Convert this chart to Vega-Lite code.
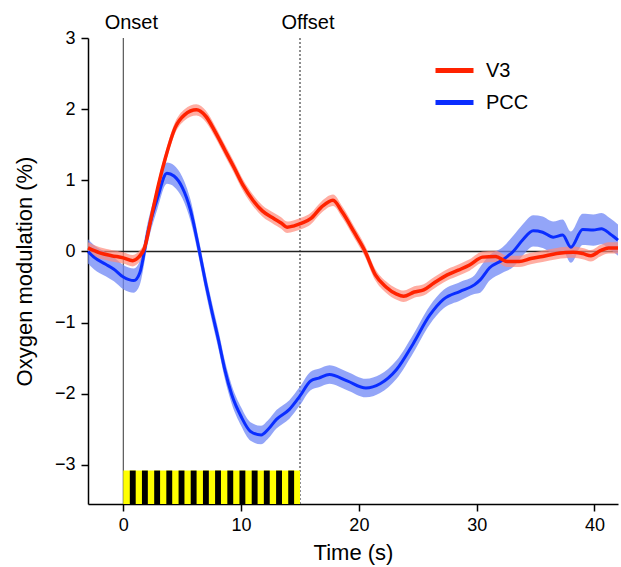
{
  "$schema": "https://vega.github.io/schema/vega-lite/v6.json",
  "autosize": "none",
  "padding": {"left": 88, "top": 38, "right": 3, "bottom": 63},
  "width": 530,
  "height": 466,
  "background": "white",
  "config": {
    "view": {"stroke": null},
    "font": "Liberation Sans",
    "axis": {"grid": false, "domainColor": "black", "domainWidth": 1.5, "tickColor": "black", "tickWidth": 1.5, "tickSize": 7, "labelFont": "Liberation Sans", "labelFontSize": 18, "labelColor": "black", "titleFont": "Liberation Sans", "titleFontSize": 22, "titleFontWeight": "normal", "titleColor": "black"}
  },
  "datasets": {
    "curves": [
      {"s":"V3","t":-3,"v":0.05,"lo":-0.03,"hi":0.13},
      {"s":"V3","t":-2,"v":-0.02,"lo":-0.10,"hi":0.06},
      {"s":"V3","t":-1,"v":-0.06,"lo":-0.14,"hi":0.02},
      {"s":"V3","t":0,"v":-0.09,"lo":-0.17,"hi":-0.01},
      {"s":"V3","t":0.8,"v":-0.13,"lo":-0.21,"hi":-0.05},
      {"s":"V3","t":1.3,"v":-0.08,"lo":-0.16,"hi":0.00},
      {"s":"V3","t":1.8,"v":0.05,"lo":-0.03,"hi":0.13},
      {"s":"V3","t":2.4,"v":0.50,"lo":0.42,"hi":0.58},
      {"s":"V3","t":3.0,"v":0.95,"lo":0.87,"hi":1.03},
      {"s":"V3","t":3.6,"v":1.33,"lo":1.25,"hi":1.41},
      {"s":"V3","t":4.4,"v":1.74,"lo":1.66,"hi":1.82},
      {"s":"V3","t":5.2,"v":1.92,"lo":1.84,"hi":2.00},
      {"s":"V3","t":6.2,"v":1.99,"lo":1.91,"hi":2.07},
      {"s":"V3","t":7.0,"v":1.90,"lo":1.82,"hi":1.98},
      {"s":"V3","t":7.8,"v":1.68,"lo":1.60,"hi":1.76},
      {"s":"V3","t":8.6,"v":1.43,"lo":1.35,"hi":1.51},
      {"s":"V3","t":9.4,"v":1.18,"lo":1.10,"hi":1.26},
      {"s":"V3","t":10.2,"v":0.92,"lo":0.84,"hi":1.00},
      {"s":"V3","t":11.0,"v":0.72,"lo":0.64,"hi":0.80},
      {"s":"V3","t":11.8,"v":0.57,"lo":0.49,"hi":0.65},
      {"s":"V3","t":12.8,"v":0.46,"lo":0.38,"hi":0.54},
      {"s":"V3","t":13.4,"v":0.40,"lo":0.32,"hi":0.48},
      {"s":"V3","t":13.9,"v":0.34,"lo":0.26,"hi":0.42},
      {"s":"V3","t":14.5,"v":0.36,"lo":0.28,"hi":0.44},
      {"s":"V3","t":15.2,"v":0.40,"lo":0.32,"hi":0.48},
      {"s":"V3","t":15.9,"v":0.46,"lo":0.38,"hi":0.54},
      {"s":"V3","t":16.8,"v":0.62,"lo":0.54,"hi":0.70},
      {"s":"V3","t":17.8,"v":0.72,"lo":0.64,"hi":0.80},
      {"s":"V3","t":18.6,"v":0.55,"lo":0.47,"hi":0.63},
      {"s":"V3","t":19.6,"v":0.27,"lo":0.19,"hi":0.35},
      {"s":"V3","t":20.5,"v":0.01,"lo":-0.07,"hi":0.09},
      {"s":"V3","t":21.4,"v":-0.33,"lo":-0.41,"hi":-0.25},
      {"s":"V3","t":22.3,"v":-0.50,"lo":-0.58,"hi":-0.42},
      {"s":"V3","t":23.2,"v":-0.60,"lo":-0.68,"hi":-0.52},
      {"s":"V3","t":23.8,"v":-0.63,"lo":-0.71,"hi":-0.55},
      {"s":"V3","t":24.7,"v":-0.57,"lo":-0.65,"hi":-0.49},
      {"s":"V3","t":25.5,"v":-0.54,"lo":-0.62,"hi":-0.46},
      {"s":"V3","t":26.4,"v":-0.44,"lo":-0.52,"hi":-0.36},
      {"s":"V3","t":27.5,"v":-0.33,"lo":-0.41,"hi":-0.25},
      {"s":"V3","t":28.5,"v":-0.26,"lo":-0.34,"hi":-0.18},
      {"s":"V3","t":29.4,"v":-0.19,"lo":-0.27,"hi":-0.11},
      {"s":"V3","t":30.5,"v":-0.08,"lo":-0.16,"hi":0.00},
      {"s":"V3","t":31.6,"v":-0.07,"lo":-0.15,"hi":0.01},
      {"s":"V3","t":32.6,"v":-0.14,"lo":-0.22,"hi":-0.06},
      {"s":"V3","t":33.6,"v":-0.14,"lo":-0.22,"hi":-0.06},
      {"s":"V3","t":34.6,"v":-0.10,"lo":-0.18,"hi":-0.02},
      {"s":"V3","t":35.6,"v":-0.07,"lo":-0.15,"hi":0.01},
      {"s":"V3","t":36.8,"v":-0.03,"lo":-0.11,"hi":0.05},
      {"s":"V3","t":38.2,"v":-0.01,"lo":-0.09,"hi":0.07},
      {"s":"V3","t":39.0,"v":-0.03,"lo":-0.11,"hi":0.05},
      {"s":"V3","t":39.7,"v":-0.06,"lo":-0.14,"hi":0.02},
      {"s":"V3","t":40.5,"v":0.01,"lo":-0.07,"hi":0.09},
      {"s":"V3","t":41.2,"v":0.05,"lo":-0.03,"hi":0.13},
      {"s":"V3","t":42.0,"v":0.05,"lo":-0.03,"hi":0.13},
      {"s":"PCC","t":-3,"v":0.00,"lo":-0.17,"hi":0.17},
      {"s":"PCC","t":-2.5,"v":-0.08,"lo":-0.25,"hi":0.09},
      {"s":"PCC","t":-1.5,"v":-0.18,"lo":-0.35,"hi":-0.01},
      {"s":"PCC","t":-0.8,"v":-0.25,"lo":-0.42,"hi":-0.08},
      {"s":"PCC","t":0.0,"v":-0.36,"lo":-0.53,"hi":-0.19},
      {"s":"PCC","t":0.9,"v":-0.41,"lo":-0.58,"hi":-0.24},
      {"s":"PCC","t":1.4,"v":-0.30,"lo":-0.47,"hi":-0.13},
      {"s":"PCC","t":2.1,"v":0.28,"lo":0.13,"hi":0.43},
      {"s":"PCC","t":2.9,"v":0.75,"lo":0.60,"hi":0.90},
      {"s":"PCC","t":3.7,"v":1.10,"lo":0.95,"hi":1.25},
      {"s":"PCC","t":4.3,"v":1.06,"lo":0.91,"hi":1.21},
      {"s":"PCC","t":5.0,"v":0.90,"lo":0.75,"hi":1.05},
      {"s":"PCC","t":5.7,"v":0.58,"lo":0.43,"hi":0.73},
      {"s":"PCC","t":6.4,"v":0.05,"lo":-0.08,"hi":0.18},
      {"s":"PCC","t":7.0,"v":-0.45,"lo":-0.58,"hi":-0.32},
      {"s":"PCC","t":7.5,"v":-0.83,"lo":-0.96,"hi":-0.70},
      {"s":"PCC","t":8.1,"v":-1.26,"lo":-1.39,"hi":-1.13},
      {"s":"PCC","t":8.6,"v":-1.65,"lo":-1.78,"hi":-1.52},
      {"s":"PCC","t":9.2,"v":-2.01,"lo":-2.14,"hi":-1.88},
      {"s":"PCC","t":10.0,"v":-2.32,"lo":-2.45,"hi":-2.19},
      {"s":"PCC","t":10.8,"v":-2.53,"lo":-2.66,"hi":-2.40},
      {"s":"PCC","t":11.7,"v":-2.58,"lo":-2.71,"hi":-2.45},
      {"s":"PCC","t":12.3,"v":-2.50,"lo":-2.63,"hi":-2.37},
      {"s":"PCC","t":13.0,"v":-2.36,"lo":-2.49,"hi":-2.23},
      {"s":"PCC","t":14.1,"v":-2.22,"lo":-2.35,"hi":-2.09},
      {"s":"PCC","t":15.0,"v":-2.03,"lo":-2.16,"hi":-1.90},
      {"s":"PCC","t":15.9,"v":-1.82,"lo":-1.95,"hi":-1.69},
      {"s":"PCC","t":16.6,"v":-1.78,"lo":-1.91,"hi":-1.65},
      {"s":"PCC","t":17.5,"v":-1.73,"lo":-1.86,"hi":-1.60},
      {"s":"PCC","t":19.0,"v":-1.82,"lo":-1.95,"hi":-1.69},
      {"s":"PCC","t":20.6,"v":-1.92,"lo":-2.05,"hi":-1.79},
      {"s":"PCC","t":21.8,"v":-1.86,"lo":-1.99,"hi":-1.73},
      {"s":"PCC","t":23.2,"v":-1.66,"lo":-1.79,"hi":-1.53},
      {"s":"PCC","t":24.6,"v":-1.30,"lo":-1.43,"hi":-1.17},
      {"s":"PCC","t":26.0,"v":-0.90,"lo":-1.03,"hi":-0.77},
      {"s":"PCC","t":27.2,"v":-0.67,"lo":-0.80,"hi":-0.54},
      {"s":"PCC","t":28.6,"v":-0.56,"lo":-0.69,"hi":-0.43},
      {"s":"PCC","t":29.8,"v":-0.47,"lo":-0.60,"hi":-0.34},
      {"s":"PCC","t":30.3,"v":-0.40,"lo":-0.58,"hi":-0.22},
      {"s":"PCC","t":31.1,"v":-0.23,"lo":-0.41,"hi":-0.05},
      {"s":"PCC","t":32.2,"v":-0.12,"lo":-0.30,"hi":0.06},
      {"s":"PCC","t":33.1,"v":0.00,"lo":-0.22,"hi":0.22},
      {"s":"PCC","t":33.9,"v":0.16,"lo":-0.06,"hi":0.38},
      {"s":"PCC","t":34.8,"v":0.29,"lo":0.07,"hi":0.51},
      {"s":"PCC","t":35.6,"v":0.27,"lo":0.05,"hi":0.49},
      {"s":"PCC","t":36.5,"v":0.20,"lo":-0.02,"hi":0.42},
      {"s":"PCC","t":37.3,"v":0.23,"lo":0.01,"hi":0.45},
      {"s":"PCC","t":38.0,"v":0.06,"lo":-0.16,"hi":0.28},
      {"s":"PCC","t":39.0,"v":0.31,"lo":0.09,"hi":0.53},
      {"s":"PCC","t":39.9,"v":0.30,"lo":0.08,"hi":0.52},
      {"s":"PCC","t":40.6,"v":0.32,"lo":0.10,"hi":0.54},
      {"s":"PCC","t":41.3,"v":0.25,"lo":0.03,"hi":0.47},
      {"s":"PCC","t":42.0,"v":0.16,"lo":-0.06,"hi":0.38}
    ],
    "stripes": [
      {"x0":0.55,"x1":1.05},{"x0":1.58,"x1":2.08},{"x0":2.62,"x1":3.12},{"x0":3.65,"x1":4.15},
      {"x0":4.69,"x1":5.19},{"x0":5.72,"x1":6.22},{"x0":6.76,"x1":7.26},{"x0":7.79,"x1":8.29},
      {"x0":8.83,"x1":9.33},{"x0":9.86,"x1":10.36},{"x0":10.9,"x1":11.4},{"x0":11.93,"x1":12.43},
      {"x0":12.97,"x1":13.47},{"x0":14.0,"x1":14.5}
    ],
    "events": [
      {"t":0,"label":"Onset"},
      {"t":15,"label":"Offset"}
    ]
  },
  "encoding": {
    "x": {"type": "quantitative", "scale": {"domain": [-3, 42], "nice": false, "zero": false}},
    "y": {"type": "quantitative", "scale": {"domain": [-3.55, 3], "nice": false, "zero": false}}
  },
  "layer": [
    {
      "data": {"name": "events"},
      "transform": [{"filter": "datum.t == 0"}],
      "mark": {"type": "rule", "color": "#555555", "strokeWidth": 1.2},
      "encoding": {"x": {"field": "t", "type": "quantitative", "axis": {"values": [0,10,20,30,40], "format": "d", "title": "Time (s)", "labelPadding": 5, "titlePadding": 8}}}
    },
    {
      "data": {"name": "events"},
      "transform": [{"filter": "datum.t == 15"}],
      "mark": {"type": "rule", "color": "#444444", "strokeWidth": 1.2, "strokeDash": [2, 2]},
      "encoding": {"x": {"field": "t", "type": "quantitative"}}
    },
    {
      "data": {"values": [{"x0": 0, "x1": 15, "y0": -3.55, "y1": -3.08}]},
      "mark": {"type": "rect", "color": "#ffff00"},
      "encoding": {
        "x": {"field": "x0", "type": "quantitative"},
        "x2": {"field": "x1"},
        "y": {"field": "y0", "type": "quantitative", "axis": {"values": [-3,-2,-1,0,1,2,3], "format": "d", "title": "Oxygen modulation (%)", "labelPadding": 6, "titlePadding": 18}},
        "y2": {"field": "y1"}
      }
    },
    {
      "data": {"name": "stripes"},
      "mark": {"type": "rect", "color": "#000000"},
      "encoding": {
        "x": {"field": "x0", "type": "quantitative"},
        "x2": {"field": "x1"},
        "y": {"datum": -3.55},
        "y2": {"datum": -3.08}
      }
    },
    {
      "data": {"values": [{"z": 0}]},
      "mark": {"type": "rule", "color": "#222222", "strokeWidth": 1.5},
      "encoding": {"y": {"field": "z", "type": "quantitative"}}
    },
    {
      "data": {"name": "curves"},
      "transform": [{"filter": "datum.s == 'PCC'"}],
      "mark": {"type": "area", "color": "#6f87f5", "opacity": 0.75, "interpolate": "monotone"},
      "encoding": {
        "x": {"field": "t", "type": "quantitative"},
        "y": {"field": "lo", "type": "quantitative"},
        "y2": {"field": "hi"}
      }
    },
    {
      "data": {"name": "curves"},
      "transform": [{"filter": "datum.s == 'V3'"}],
      "mark": {"type": "area", "color": "#ff8a7a", "opacity": 0.7, "interpolate": "monotone"},
      "encoding": {
        "x": {"field": "t", "type": "quantitative"},
        "y": {"field": "lo", "type": "quantitative"},
        "y2": {"field": "hi"}
      }
    },
    {
      "data": {"name": "curves"},
      "transform": [{"filter": "datum.s == 'PCC'"}],
      "mark": {"type": "line", "strokeWidth": 3, "interpolate": "monotone"},
      "encoding": {
        "x": {"field": "t", "type": "quantitative"},
        "y": {"field": "v", "type": "quantitative"},
        "color": {"field": "s", "type": "nominal", "scale": {"domain": ["V3", "PCC"], "range": ["#ff2200", "#0a2dff"]},
          "legend": {"title": null, "orient": "none", "legendX": 345, "legendY": 11, "symbolType": "stroke", "symbolStrokeWidth": 5, "symbolSize": 1444, "labelFontSize": 20, "labelFont": "Liberation Sans", "labelColor": "black", "labelOffset": 10, "rowPadding": 0}}
      }
    },
    {
      "data": {"name": "curves"},
      "transform": [{"filter": "datum.s == 'V3'"}],
      "mark": {"type": "line", "strokeWidth": 3.5, "interpolate": "monotone"},
      "encoding": {
        "x": {"field": "t", "type": "quantitative"},
        "y": {"field": "v", "type": "quantitative"},
        "color": {"field": "s", "type": "nominal"}
      }
    },
    {
      "data": {"name": "events"},
      "mark": {"type": "text", "fontSize": 20, "font": "Liberation Sans", "color": "black", "baseline": "middle", "align": "center", "dx": 8},
      "encoding": {
        "x": {"field": "t", "type": "quantitative"},
        "y": {"datum": 3.21},
        "text": {"field": "label"}
      }
    }
  ]
}
